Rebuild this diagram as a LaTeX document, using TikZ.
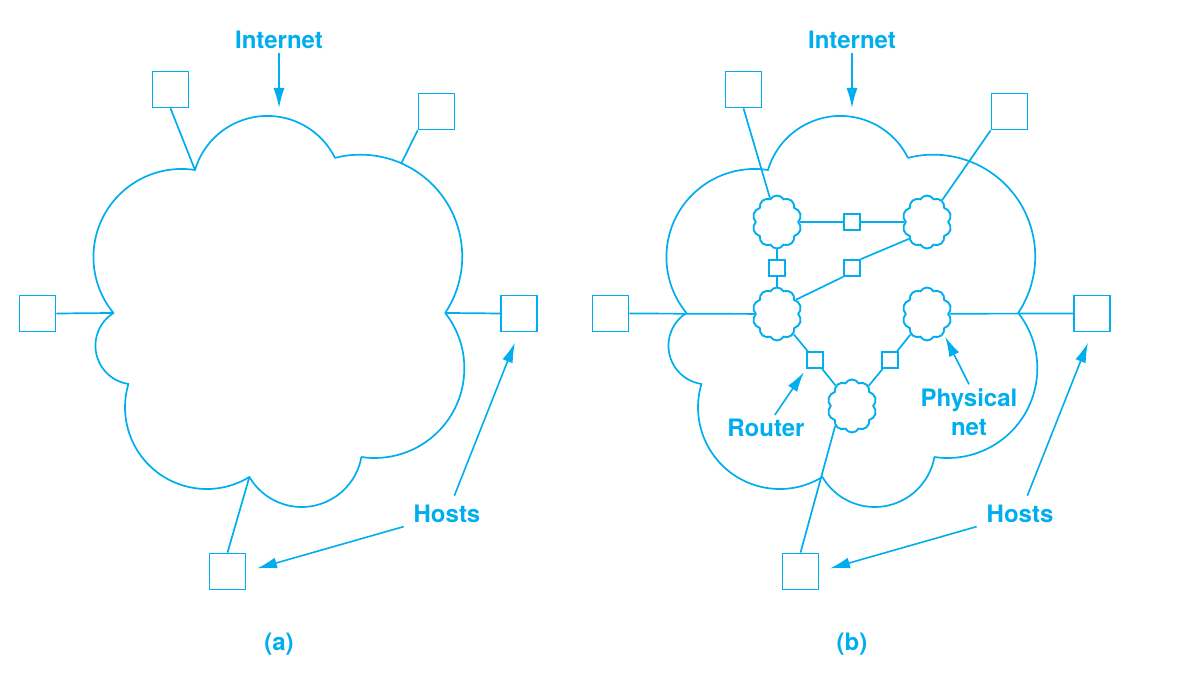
\documentclass[tikz,border=0pt]{standalone}
\usepackage{fontspec}
\setsansfont{TeX Gyre Heros}
\usetikzlibrary{arrows.meta,shapes.symbols}
\definecolor{netblue}{RGB}{0,174,239}

% outline of the big cloud, cusps are named #1c1 ... #1c7
\newcommand{\bigcloud}[1]{%
	\draw[netline] (195,170) coordinate (#1c1)
	arc[start angle=196.5, end angle=333.6, radius=75.5] coordinate (#1c2)
	arc[start angle=255.6, end angle=393.6, radius=101.9] coordinate (#1c3)
	arc[start angle=-38.1, end angle=98.5, radius=89.7] coordinate (#1c4)
	arc[start angle=10.1, end angle=149.7, radius=60.6] coordinate (#1c5)
	arc[start angle=58.5, end angle=196.6, radius=81.7] coordinate (#1c6)
	arc[start angle=98.5, end angle=237.7, radius=38.7] coordinate (#1c7)
	arc[start angle=140.6, end angle=279, radius=88.1] -- cycle;}

\begin{document}
\begin{tikzpicture}[x=1pt, y=-1pt,
		netline/.style={draw=netblue, line width=1.7pt, line join=round},
		hostbox/.style={draw=netblue, line width=1.7pt, minimum size=36pt, inner sep=0pt},
		routerbox/.style={draw=netblue, line width=1.7pt, minimum size=16pt, inner sep=0pt},
		netcloud/.style={cloud, cloud puffs=10, cloud puff arc=120, cloud ignores aspect,
			minimum width=49pt, minimum height=53pt, inner sep=0pt, draw=netblue, line width=1.9pt},
		lbl/.style={font=\sffamily\bfseries\fontsize{24}{29}\selectfont, text=netblue, inner sep=4pt},
		pointer/.style={draw=netblue, line width=1.6pt, -{Latex[length=20pt,width=11pt]}}]
	\useasboundingbox (0,0) rectangle (1202,676);
	
	% the two panels share the cloud, the hosts and the labels
	\foreach \p/\dx in {a/0,b/573}
	{
		\begin{scope}[xshift=\dx pt]
			\bigcloud{\p}
			\node[hostbox] (\p-h1) at (170.5,89.5) {};
			\node[hostbox] (\p-h2) at (436.5,111.5) {};
			\node[hostbox] (\p-h3) at (37.5,313.5) {};
			\node[hostbox] (\p-h4) at (519,313.5) {};
			\node[hostbox] (\p-h5) at (227.5,571.5) {};
			\node[lbl, anchor=base] (\p-inet) at (279,49) {Internet};
			\coordinate (\p-top) at (279,108);
			\draw[pointer] (\p-inet) -- (\p-top);
			\node[lbl] (\p-hosts) at (447,514.3) {Hosts};
			\draw[pointer, shorten <=6pt, shorten >=11pt] (\p-hosts) -- (\p-h5.east);
			\draw[pointer, shorten <=6pt, shorten >=11pt] (\p-hosts) -- (\p-h4.south);
			\node[lbl, anchor=base] (\p-cap) at (279,650) {(\p)};
		\end{scope}
	}
	
	% (a): hosts hang on the cloud
	\coordinate (a-c2h) at (401,164);
	\draw[netline] (a-h1.south) -- (ac1);
	\draw[netline] (a-h2.south west) -- (a-c2h);
	\draw[netline] (a-h3.east) -- (ac7);
	\draw[netline] (a-h4.west) -- (ac3);
	\draw[netline] (a-h5.north) -- (ac5);
	
	% (b): physical nets and routers inside
	\node[netcloud] (pA) at (777,222) {};
	\node[netcloud] (pB) at (927,222) {};
	\node[netcloud] (pD) at (777,314) {};
	\node[netcloud] (pE) at (927,314) {};
	\node[netcloud] (pC) at (852,406) {};
	\node[routerbox] (r1) at (852,222) {};
	\node[routerbox] (r2) at (777,268) {};
	\node[routerbox] (r3) at (852,268) {};
	\node[routerbox] (r4) at (815,360) {};
	\node[routerbox] (r5) at (890,360) {};
	
	\draw[netline] (pA) -- (r1) -- (pB);
	\draw[netline] (pA) -- (r2) -- (pD);
	\draw[netline] (pD.37) -- (r3.south west);
	\draw[netline] (r3.north east) -- (pB.223);
	\draw[netline] (pD) -- (r4) -- (pC);
	\draw[netline] (pE) -- (r5) -- (pC);
	
	\draw[netline] (b-h1.south) -- (pA);
	\draw[netline] (b-h2.south west) -- (pB);
	\draw[netline] (b-h3.east) -- (pD);
	\draw[netline] (b-h4.west) -- (pE);
	\draw[netline] (b-h5.north) -- (pC.230);
	
	\node[lbl] (router) at (766,428) {Router};
	\draw[pointer, shorten >=4pt] (router) -- (r4.south west);
	\node[lbl, align=center] (phys) at (969,412) {Physical\\net};
	\draw[pointer, shorten >=3pt] (phys.north) -- (pE.-50);
\end{tikzpicture}
\end{document}
